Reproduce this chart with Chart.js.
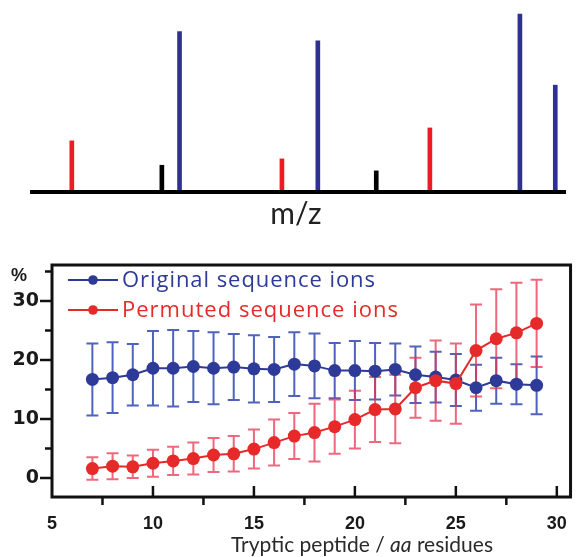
<!DOCTYPE html>
<html>
<head>
<meta charset="utf-8">
<script src="https://cdn.jsdelivr.net/npm/chart.js@4.4.1/dist/chart.umd.min.js"></script>
<style>
  html, body { margin: 0; padding: 0; background: #fff; }
  #wrap { position: relative; width: 583px; height: 557px; overflow: hidden; }
  canvas { position: absolute; left: 0; }
  #spectrum { top: 0; }
  #profile { top: 240px; }
</style>
</head>
<body>
<div id="wrap">
  <canvas id="spectrum" width="583" height="240"></canvas>
  <canvas id="profile" width="583" height="317"></canvas>
</div>
<script>
// ---- schematic stick spectrum ----
const peakMz        = [7.8, 24.6, 27.9, 47.0, 53.7, 64.6, 74.6, 91.4, 98.0];
const peakIntensity = [28.1, 14.7, 88.1, 18.2, 83.1, 11.6, 35.2, 97.8, 58.7];
const peakKind      = ['permuted', 'other', 'original', 'permuted', 'original', 'other', 'permuted', 'original', 'original'];

// ---- sequence-ion coverage vs tryptic peptide length ----
const residues     = [7, 8, 9, 10, 11, 12, 13, 14, 15, 16, 17, 18, 19, 20, 21, 22, 23, 24, 25, 26, 27, 28, 29];
const originalMean = [16.7, 17.0, 17.5, 18.6, 18.6, 18.9, 18.6, 18.8, 18.5, 18.4, 19.3, 19.0, 18.2, 18.2, 18.1, 18.4, 17.5, 17.1, 16.6, 15.3, 16.5, 15.9, 15.7];
const originalSd   = [6.1, 6.0, 5.2, 6.3, 6.5, 6.0, 6.1, 5.6, 5.7, 5.5, 5.4, 5.5, 4.7, 5.0, 4.8, 4.4, 4.8, 4.3, 4.4, 3.9, 3.9, 3.4, 4.9];
const permutedMean = [1.6, 2.0, 1.9, 2.5, 2.9, 3.3, 3.9, 4.1, 4.9, 6.0, 7.1, 7.7, 8.7, 9.9, 11.6, 11.7, 15.3, 16.5, 16.0, 21.6, 23.6, 24.6, 26.2];
const permutedSd   = [1.9, 2.2, 1.9, 2.3, 2.4, 2.7, 2.9, 3.0, 3.3, 3.9, 3.9, 4.9, 4.6, 4.9, 5.5, 5.8, 5.1, 6.8, 6.8, 7.8, 8.4, 8.5, 7.4];
const xTickValues  = [5, 10, 15, 20, 25, 30];
const yTickValues  = [0, 10, 20, 30];

const SPECTRUM_COLORS = { original: '#2e3192', permuted: '#ed1c24', other: '#000000' };
const BLUE = '#2d3a97';
const RED = '#e62a2a';
const LEGEND_TEXT_WIDTH = [253, 276];

// baseline and axis label under the sticks
const spectrumAxis = {
  id: 'spectrumAxis',
  afterDatasetsDraw(chart) {
    const { ctx, chartArea } = chart;
    const y0 = chart.scales.y.getPixelForValue(0);
    ctx.save();
    ctx.strokeStyle = '#000';
    ctx.lineWidth = 4;
    ctx.beginPath();
    ctx.moveTo(chartArea.left, y0);
    ctx.lineTo(chartArea.right, y0);
    ctx.stroke();
    ctx.fillStyle = '#222';
    ctx.font = '30px Lato';
    ctx.textAlign = 'center';
    ctx.textBaseline = 'middle';
    ctx.fillText('m/z', (chartArea.left + chartArea.right) / 2 - 2, y0 + 22);
    ctx.restore();
  }
};

new Chart(document.getElementById('spectrum'), {
  type: 'bar',
  data: {
    datasets: [{
      data: peakMz.map((m, i) => ({ x: m, y: peakIntensity[i] })),
      backgroundColor: peakKind.map(k => SPECTRUM_COLORS[k]),
      borderWidth: 0,
      barThickness: 4
    }]
  },
  options: {
    responsive: false,
    animation: false,
    layout: { padding: { left: 30, right: 17, top: 10, bottom: 48 } },
    plugins: { legend: { display: false }, tooltip: { enabled: false } },
    scales: {
      x: { type: 'linear', min: 0, max: 100, offset: false, display: false },
      y: { min: 0, max: 100, display: false }
    }
  },
  plugins: [spectrumAxis]
});

// vertical error bars with caps, drawn beneath the markers
const errorBars = {
  id: 'errorBars',
  beforeDatasetsDraw(chart) {
    const { ctx } = chart;
    const yScale = chart.scales.y;
    ctx.save();
    ctx.lineWidth = 2;
    chart.data.datasets.forEach((ds, di) => {
      const meta = chart.getDatasetMeta(di);
      ctx.strokeStyle = ds.errorColor;
      meta.data.forEach((pt, i) => {
        const v = ds.data[i].y, e = ds.errors[i];
        const yt = yScale.getPixelForValue(v + e);
        const yb = yScale.getPixelForValue(v - e);
        ctx.beginPath();
        ctx.moveTo(pt.x, yt); ctx.lineTo(pt.x, yb);
        ctx.moveTo(pt.x - 6, yt); ctx.lineTo(pt.x + 6, yt);
        ctx.moveTo(pt.x - 6, yb); ctx.lineTo(pt.x + 6, yb);
        ctx.stroke();
      });
    });
    ctx.restore();
  }
};

// draws text one glyph at a time, tracked out to fill a given width
function spacedText(ctx, text, x, y, width) {
  const chars = [...text];
  const natural = ctx.measureText(text).width;
  const tracking = Math.max(0, (width - natural) / (chars.length - 1));
  for (const ch of chars) {
    ctx.fillText(ch, x, y);
    x += ctx.measureText(ch).width + tracking;
  }
}

// plot frame, major/minor tick marks, unit label, legend and axis title
const frameAndLegend = {
  id: 'frameAndLegend',
  afterDraw(chart) {
    const { ctx, chartArea: a } = chart;
    const xs = chart.scales.x, ys = chart.scales.y;
    ctx.save();
    ctx.strokeStyle = '#111';
    ctx.lineWidth = 3;
    ctx.strokeRect(a.left, a.top, a.right - a.left, a.bottom - a.top);

    ctx.lineWidth = 2.5;
    ctx.beginPath();
    for (let v = 0; v <= ys.max; v += 5) {
      const y = ys.getPixelForValue(v);
      const len = v % 10 === 0 ? 12 : 7;
      ctx.moveTo(a.left - len, y); ctx.lineTo(a.left, y);
    }
    for (let v = 7.5; v <= xs.max; v += 5) {
      const x = xs.getPixelForValue(v);
      ctx.moveTo(x, a.bottom); ctx.lineTo(x, a.bottom + 8);
    }
    for (let v = 10; v <= xs.max; v += 5) {
      const x = xs.getPixelForValue(v);
      ctx.moveTo(x, a.bottom); ctx.lineTo(x, a.bottom - 11);
    }
    ctx.stroke();

    ctx.fillStyle = '#1a1a1a';
    ctx.font = 'bold 18px "Liberation Sans"';
    ctx.textAlign = 'left';
    ctx.textBaseline = 'middle';
    ctx.fillText('%', 11, ys.getPixelForValue(34.3));

    // legend
    ctx.font = '22px "Open Sans"';
    chart.data.datasets.forEach((ds, i) => {
      const y = a.top + 15 + 30 * i;
      ctx.strokeStyle = ds.borderColor;
      ctx.lineWidth = 2;
      ctx.beginPath();
      ctx.moveTo(a.left + 16, y); ctx.lineTo(a.left + 66, y);
      ctx.stroke();
      ctx.fillStyle = ds.borderColor;
      ctx.beginPath();
      ctx.arc(a.left + 41, y, 4.8, 0, Math.PI * 2);
      ctx.fill();
      ctx.textAlign = 'left';
      spacedText(ctx, ds.label, a.left + 70, y + 1, LEGEND_TEXT_WIDTH[i]);
    });

    // axis title with italic "aa"
    const parts = [['Tryptic peptide / ', 'normal'], ['aa', 'italic'], [' residues', 'normal']];
    ctx.fillStyle = '#2a2a2a';
    ctx.textBaseline = 'middle';
    let total = 0;
    parts.forEach(p => { ctx.font = p[1] + ' 21px Lato'; total += ctx.measureText(p[0]).width; });
    let x = 362 - total / 2;
    parts.forEach(p => {
      ctx.font = p[1] + ' 21px Lato';
      ctx.fillText(p[0], x, 305);
      x += ctx.measureText(p[0]).width;
    });
    ctx.restore();
  }
};

const xTickFont = { family: '"Liberation Sans"', size: 18, weight: 'bold' };
const yTickFont = { family: '"DejaVu Sans"', size: 19, weight: 'bold' };

new Chart(document.getElementById('profile'), {
  type: 'line',
  data: {
    datasets: [
      {
        label: 'Original sequence ions',
        data: residues.map((r, i) => ({ x: r, y: originalMean[i] })),
        errors: originalSd,
        errorColor: 'rgba(48, 72, 178, 0.85)',
        borderColor: BLUE, backgroundColor: BLUE,
        borderWidth: 2, pointRadius: 6.5, pointBorderWidth: 0,
        order: 1
      },
      {
        label: 'Permuted sequence ions',
        data: residues.map((r, i) => ({ x: r, y: permutedMean[i] })),
        errors: permutedSd,
        errorColor: 'rgba(232, 52, 80, 0.75)',
        borderColor: RED, backgroundColor: RED,
        borderWidth: 2, pointRadius: 6.5, pointBorderWidth: 0,
        order: 0
      }
    ]
  },
  options: {
    responsive: false,
    animation: false,
    layout: { padding: { top: 25, right: 6, left: 0, bottom: 0 } },
    plugins: { legend: { display: false }, tooltip: { enabled: false } },
    scales: {
      x: {
        type: 'linear', min: 5, max: 30.68,
        afterFit: s => { s.height = 60; },
        afterBuildTicks: s => { s.ticks = xTickValues.map(v => ({ value: v })); },
        grid: { display: false, drawTicks: false },
        border: { display: false },
        ticks: { padding: 16, font: xTickFont, color: '#1a1a1a', autoSkip: false, maxRotation: 0 }
      },
      y: {
        min: -3.22, max: 36.1,
        afterFit: s => { s.width = 52; },
        afterBuildTicks: s => { s.ticks = yTickValues.map(v => ({ value: v })); },
        grid: { display: false, drawTicks: false },
        border: { display: false },
        ticks: { padding: 13, font: yTickFont, color: '#1a1a1a', autoSkip: false }
      }
    }
  },
  plugins: [errorBars, frameAndLegend]
});
</script>
</body>
</html>
